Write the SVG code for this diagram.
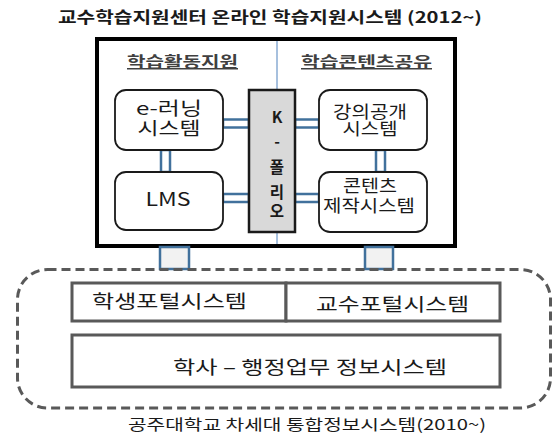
<svg xmlns="http://www.w3.org/2000/svg" width="553" height="434" viewBox="0 0 553 434">
<style>
text{font-family:"Noto Sans CJK KR","Liberation Sans",sans-serif;fill:#1a1a1a}
.title{font-size:15.5px;font-weight:bold}
.hdr{font-size:15px;font-weight:bold;fill:#404040;text-decoration:underline}
.node{fill:#fff;stroke:#1a1a1a;stroke-width:1.8}
.lbl{font-size:18px;text-anchor:middle}
.lbr{font-size:17px;text-anchor:middle}
.kp{font-size:15.5px;font-weight:bold;text-anchor:middle}
.conn{fill:#fff;stroke:#41719c;stroke-width:2.5}
.bconn{fill:#f2f2f2;stroke:#41719c;stroke-width:2.5}
.gbox{fill:#fff;stroke:#595959;stroke-width:3}
.big{font-size:18.5px}
</style>
<rect width="553" height="434" fill="#fff"/>
<text class="title" x="58" y="23" textLength="424" lengthAdjust="spacingAndGlyphs">교수학습지원센터 온라인 학습지원시스템 (2012~)</text>

<g id="main">
<rect x="97" y="39" width="358" height="207" fill="#fff" stroke="#000" stroke-width="4"/>
<line x1="277" y1="41" x2="277" y2="244" stroke="#4f81bd" stroke-width="1"/>
<text class="hdr" x="127" y="67" textLength="111" lengthAdjust="spacingAndGlyphs">학습활동지원</text>
<text class="hdr" x="301" y="67" textLength="131" lengthAdjust="spacingAndGlyphs">학습콘텐츠공유</text>
</g>

<g id="connectors">
<rect class="conn" x="223" y="119.5" width="26" height="8"/>
<rect class="conn" x="223" y="194" width="26" height="8"/>
<rect class="conn" x="295" y="119.5" width="24" height="8"/>
<rect class="conn" x="295" y="194" width="24" height="8"/>
<rect class="conn" x="161" y="150" width="9" height="22"/>
<rect class="conn" x="376" y="150" width="9" height="22"/>
<rect class="bconn" x="160" y="247" width="29" height="22"/>
<rect class="bconn" x="365" y="247" width="28" height="22"/>
</g>

<g id="elearning">
<rect class="node" x="115" y="90" width="108" height="60" rx="11"/>
<text class="lbl" x="169" y="115" textLength="66" lengthAdjust="spacingAndGlyphs">e-러닝</text>
<text class="lbl" x="169" y="135" textLength="63" lengthAdjust="spacingAndGlyphs">시스템</text>
</g>
<g id="lms">
<rect class="node" x="115" y="172" width="108" height="58" rx="11"/>
<text class="lbl" x="168" y="206" textLength="45" lengthAdjust="spacingAndGlyphs">LMS</text>
</g>
<g id="kfolio">
<rect x="249" y="90" width="46" height="142" fill="#d9d9d9" stroke="#1a1a1a" stroke-width="2.5"/>
<text class="kp" x="277" y="123">K</text>
<text class="kp" x="277" y="147">-</text>
<text class="kp" x="277" y="173">폴</text>
<text class="kp" x="277" y="198">리</text>
<text class="kp" x="277" y="217">오</text>
</g>
<g id="lecture">
<rect class="node" x="319" y="90" width="108" height="60" rx="11"/>
<text class="lbr" x="370" y="118" textLength="74" lengthAdjust="spacingAndGlyphs">강의공개</text>
<text class="lbr" x="370" y="135" textLength="55" lengthAdjust="spacingAndGlyphs">시스템</text>
</g>
<g id="content">
<rect class="node" x="319" y="172" width="108" height="60" rx="11"/>
<text class="lbr" x="370" y="192" textLength="54" lengthAdjust="spacingAndGlyphs">콘텐츠</text>
<text class="lbr" x="369" y="212" textLength="92" lengthAdjust="spacingAndGlyphs">제작시스템</text>
</g>

<g id="integrated">
<rect x="17.5" y="269.5" width="533" height="138.5" rx="30" fill="none" stroke="#595959" stroke-width="3" stroke-dasharray="9 5"/>
<text x="128" y="430" font-size="15" textLength="358" lengthAdjust="spacingAndGlyphs">공주대학교 차세대 통합정보시스템(2010~)</text>
</g>
<g id="student">
<rect class="gbox" x="72" y="283" width="214" height="38"/>
<text class="big" x="92" y="308" textLength="155" lengthAdjust="spacingAndGlyphs">학생포털시스템</text>
</g>
<g id="professor">
<rect class="gbox" x="286" y="283" width="214" height="38"/>
<text class="big" x="316" y="311" textLength="153" lengthAdjust="spacingAndGlyphs">교수포털시스템</text>
</g>
<g id="academic">
<rect class="gbox" x="72" y="335" width="428" height="52"/>
<text class="big" x="173" y="374" textLength="274" lengthAdjust="spacingAndGlyphs">학사 – 행정업무 정보시스템</text>
</g>
</svg>
